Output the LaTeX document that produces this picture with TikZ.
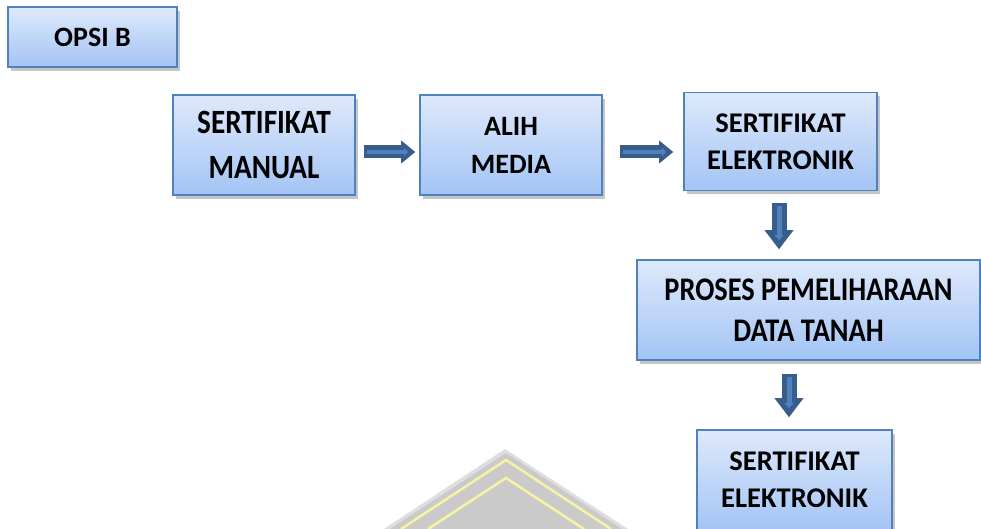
\documentclass[tikz,border=0pt]{standalone}
\usepackage{fontspec}
\setmainfont{Carlito}
\newfontfamily\narrowfont[FakeStretch=0.86]{Carlito}
\usetikzlibrary{arrows.meta,shadows}
\definecolor{boxtop}{RGB}{222,233,251}
\definecolor{boxbot}{RGB}{163,196,245}
\definecolor{boxline}{RGB}{79,129,189}
\definecolor{arrdark}{RGB}{56,93,138}
\definecolor{arrlight}{RGB}{79,129,189}
\definecolor{wmgray}{RGB}{202,202,202}
\definecolor{wmedge}{RGB}{222,222,222}
\definecolor{wmyellow}{RGB}{246,243,165}
\begin{document}
\begin{tikzpicture}[x=1pt, y=-1pt,
  box/.style={draw=boxline, line width=1.6pt, top color=boxtop, bottom color=boxbot,
    align=center, inner sep=0pt,
    drop shadow={shadow xshift=3pt, shadow yshift=-4pt, fill=black!45, opacity=.5}},
  big/.style={font=\narrowfont\fontsize{34}{45}\selectfont\bfseries},
  small/.style={font=\fontsize{28.5}{37}\selectfont\bfseries},
  harr/.style 2 args={line width=13pt, draw=arrdark, shorten <=#1, shorten >=#2,
    -{Triangle[width=23pt, length=14pt, line width=0pt]},
    postaction={draw=arrlight, line width=4.5pt, shorten <=#1+3pt, shorten >=#2+7pt, -{Triangle[width=8pt, length=4pt, line width=0pt]}}},
  varr/.style 2 args={line width=15pt, draw=arrdark, shorten <=#1, shorten >=#2,
    -{Triangle[width=29pt, length=19pt, line width=0pt]},
    postaction={draw=arrlight, line width=5pt, shorten <=#1+3pt, shorten >=#2+9pt, -{Triangle[width=9pt, length=5pt, line width=0pt]}}}]
  \useasboundingbox (0,0) rectangle (981,529);
  % watermark
  \fill[wmedge] (384,529) -- (505,449) -- (628,529) -- cycle;
  \fill[wmgray] (390,529) -- (506,453) -- (622,529) -- cycle;
  \draw[wmyellow, line width=2.5pt] (401,529) -- (506,460) -- (611,529);
  \draw[wmyellow, line width=2.5pt] (428,529) -- (506,478) -- (584,529);
  % boxes
  \node[box, font=\fontsize{28}{32}\selectfont\bfseries, minimum width=169pt, minimum height=60pt] (opsi) at (92.5,37) {OPSI B};
  \node[box, big, minimum width=182pt, minimum height=100pt] (manual) at (264,145) {SERTIFIKAT\\MANUAL};
  \node[box, font=\fontsize{28}{38}\selectfont\bfseries, minimum width=182pt, minimum height=100pt] (alih) at (511,145) {ALIH\\MEDIA};
  \node[box, small, minimum width=193pt, minimum height=98pt] (elek) at (780.5,141.5) {SERTIFIKAT\\ELEKTRONIK};
  \node[box, font=\narrowfont\fontsize{33}{41}\selectfont\bfseries, minimum width=343pt, minimum height=100pt] (proses) at (808.5,310) {PROSES PEMELIHARAAN\\DATA TANAH};
  \node[box, small, minimum width=195pt, minimum height=100pt] (elekb) at (794.5,480) {SERTIFIKAT\\ELEKTRONIK};
  % arrows
  \draw[harr={8pt}{4pt}] ([yshift=-7pt]manual.east) -- ([yshift=-7pt]manual.east -| alih.west);
  \draw[harr={17pt}{10pt}] ([yshift=-7pt]alih.east) -- ([yshift=-7pt]alih.east -| elek.west);
  \draw[varr={12pt}{10pt}] ([xshift=-1.5pt]elek.south) -- ([xshift=-1.5pt]elek.south |- proses.north);
  \draw[varr={13pt}{12pt}] ([xshift=-5.5pt]elekb.north |- proses.south) -- ([xshift=-5.5pt]elekb.north);
\end{tikzpicture}
\end{document}
